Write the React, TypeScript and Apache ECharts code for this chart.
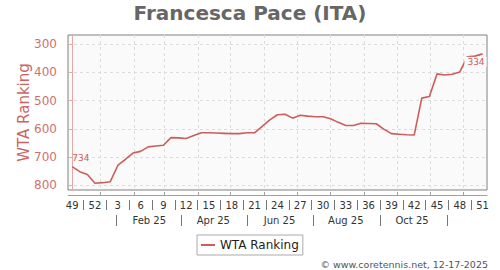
import React, { useEffect, useRef } from 'react';
import * as echarts from 'echarts';

// ISO week numbers, 2024 W49 .. 2025 W51
const weeks = [
  49, 50, 51, 52, 1, 2, 3, 4, 5, 6, 7, 8, 9, 10, 11, 12, 13, 14, 15, 16, 17, 18, 19, 20, 21,
  22, 23, 24, 25, 26, 27, 28, 29, 30, 31, 32, 33, 34, 35, 36, 37, 38, 39, 40, 41, 42, 43, 44,
  45, 46, 47, 48, 49, 50, 51,
];

// WTA ranking per week
const ranks = [
  734, 752, 762, 793, 791, 788, 730, 708, 686, 680, 664, 661, 658, 631, 632, 634, 624, 614,
  614, 615, 616, 617, 617, 614, 614, 591, 568, 550, 548, 562, 552, 555, 557, 557, 564, 577,
  588, 588, 580, 581, 582, 601, 617, 619, 621, 622, 491, 485, 405, 409, 406, 398, 344, 342,
  334,
];

const yTicks = [300, 400, 500, 600, 700, 800];

const firstPointDate = '2024-12-06';
const monthStartDates = [
  '2025-01-01', '2025-02-01', '2025-03-01', '2025-04-01', '2025-05-01', '2025-06-01',
  '2025-07-01', '2025-08-01', '2025-09-01', '2025-10-01', '2025-11-01', '2025-12-01',
];
const periodSeparatorDates = [
  '2025-01-16', '2025-03-16', '2025-05-16', '2025-07-16', '2025-09-16', '2025-11-16',
];
const periodLabelDates = ['2025-02-15', '2025-04-15', '2025-06-15', '2025-08-15', '2025-10-15'];
const periodLabels = ['Feb 25', 'Apr 25', 'Jun 25', 'Aug 25', 'Oct 25'];

const title = 'Francesca Pace (ITA)';
const seriesName = 'WTA Ranking';
const copyright = '\u00a9 www.coretennis.net, 12-17-2025';

const toWeekPos = (d: string) =>
  (Date.parse(d) - Date.parse(firstPointDate)) / (7 * 24 * 3600 * 1000);

const FONT = 'DejaVu Sans';
const LINE = '#cd5c5c';

export default function App() {
  const ref = useRef<HTMLDivElement>(null);

  useEffect(() => {
    if (!ref.current) return;
    const chart = echarts.init(ref.current, undefined, { renderer: 'svg' });

    const monthPos = monthStartDates.map(toWeekPos);
    const sepPos = periodSeparatorDates.map(toWeekPos);
    const labPos = periodLabelDates.map(toWeekPos);
    const weekLabelPos = weeks.map((_, i) => i).filter((i) => i % 3 === 0);
    const weekSepPos = weekLabelPos.slice(0, -1).map((i) => i + 1.5);

    const xMin = -0.55;
    const xMax = weeks.length - 1 + 0.58;
    const last = ranks.length - 1;

    chart.setOption({
      animation: false,
      textStyle: { fontFamily: FONT },
      title: {
        text: title,
        left: 'center',
        top: 3,
        padding: 0,
        textStyle: { fontFamily: FONT, fontSize: 20, fontWeight: 'bold', color: '#666' },
      },
      legend: {
        data: [seriesName],
        left: 197,
        top: 235,
        padding: [4, 4],
        borderColor: '#aaa',
        borderWidth: 1,
        borderRadius: 0,
        backgroundColor: '#fff',
        icon: 'rect',
        itemWidth: 14,
        itemHeight: 2,
        textStyle: { fontFamily: FONT, fontSize: 12, color: '#222' },
      },
      grid: {
        left: 68,
        right: 13,
        top: 35,
        bottom: 80,
        show: true,
        backgroundColor: '#fafafa',
        borderColor: '#808080',
        borderWidth: 1,
      },
      xAxis: [
        {
          type: 'value',
          min: xMin,
          max: xMax,
          position: 'bottom',
          offset: 5,
          axisLine: { show: true, lineStyle: { color: '#a0a0a0', width: 1 } },
          axisTick: { show: true, customValues: monthPos, length: 3, inside: true, lineStyle: { color: '#a0a0a0' } },
          axisLabel: { show: false },
          splitLine: { show: true, lineStyle: { color: '#dcdcdc', type: [3, 3], width: 1 } },
        },
        {
          type: 'value',
          min: xMin,
          max: xMax,
          position: 'bottom',
          offset: 10,
          axisLine: { show: false },
          axisTick: { show: true, customValues: weekSepPos, length: 10, lineStyle: { color: '#777' } },
          axisLabel: {
            show: true,
            customValues: weekLabelPos,
            formatter: (v: number) => String(weeks[Math.round(v)]),
            margin: 5,
            verticalAlign: 'middle',
            fontFamily: FONT,
            fontSize: 10,
            color: '#333',
          },
          splitLine: { show: false },
        },
        {
          type: 'value',
          min: xMin,
          max: xMax,
          position: 'bottom',
          offset: 25,
          axisLine: { show: false },
          axisTick: { show: true, customValues: sepPos, length: 11, lineStyle: { color: '#777' } },
          axisLabel: {
            show: true,
            customValues: labPos,
            formatter: (v: number) => {
              const k = labPos.findIndex((p) => Math.abs(p - v) < 1e-6);
              return k >= 0 ? periodLabels[k] : '';
            },
            margin: 5,
            verticalAlign: 'middle',
            fontFamily: FONT,
            fontSize: 10,
            color: '#333',
          },
          splitLine: { show: false },
        },
      ],
      yAxis: {
        type: 'value',
        inverse: true,
        min: 267,
        max: 817,
        position: 'left',
        offset: 5,
        name: seriesName,
        nameLocation: 'middle',
        nameGap: 32,
        nameMoveOverlap: false,
        nameTextStyle: { fontFamily: FONT, fontSize: 15, color: '#cd6464' },
        axisLine: { show: true, lineStyle: { color: '#e2a9a9', width: 1 } },
        axisTick: { show: true, customValues: yTicks, length: 5, lineStyle: { color: '#e2a9a9' } },
        axisLabel: {
          customValues: yTicks,
          margin: 6,
          fontFamily: FONT,
          fontSize: 12,
          color: '#d07070',
        },
        splitLine: { show: true, lineStyle: { color: '#dcdcdc', type: [3, 3], width: 1 } },
      },
      series: [
        {
          name: seriesName,
          type: 'line',
          xAxisIndex: 0,
          data: ranks.map((r, i) => [i, r]),
          showSymbol: false,
          lineStyle: { color: LINE, width: 1.6 },
          itemStyle: { color: LINE },
          markPoint: {
            symbol: 'circle',
            symbolSize: 0,
            itemStyle: { color: 'transparent' },
            data: [
              {
                coord: [0, ranks[0]],
                value: ranks[0],
                label: {
                  show: true,
                  position: [0, -4],
                  align: 'left',
                  verticalAlign: 'bottom',
                  fontFamily: FONT,
                  fontSize: 9,
                  color: LINE,
                },
              },
              {
                coord: [last, ranks[last]],
                value: ranks[last],
                label: {
                  show: true,
                  position: [4, 3],
                  align: 'right',
                  verticalAlign: 'top',
                  fontFamily: FONT,
                  fontSize: 9,
                  color: LINE,
                  backgroundColor: '#fafafa',
                  padding: [1, 2, 0, 3],
                },
              },
            ],
          },
        },
      ],
      graphic: [
        {
          type: 'text',
          right: 12,
          top: 259,
          style: {
            text: copyright,
            font: `9.5px "${FONT}"`,
            fill: '#555',
          },
        },
      ],
    });

    return () => chart.dispose();
  }, []);

  return (
    <div
      ref={ref}
      style={{ position: 'fixed', left: 0, top: 0, width: 500, height: 270, background: '#fff' }}
    />
  );
}
